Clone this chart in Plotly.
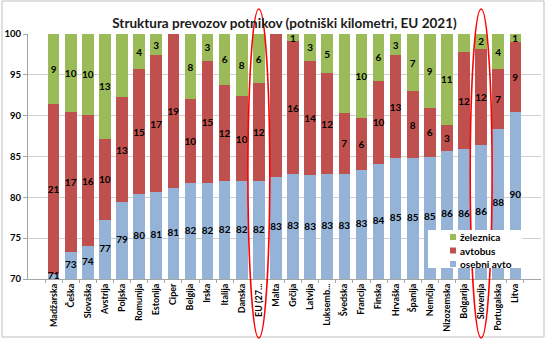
import plotly.graph_objects as go

countries = ["Madžarska", "Češka", "Slovaška", "Avstrija", "Poljska", "Romunija", "Estonija",
             "Ciper", "Belgija", "Irska", "Italija", "Danska", "EU (27...", "Malta", "Grčija",
             "Latvija", "Luksemb...", "Švedska", "Francija", "Finska", "Hrvaška", "Španija",
             "Nemčija", "Nizozemska", "Bolgarija", "Slovenija", "Portugalska", "Litva"]

osebni_avto = [70.6, 73.3, 74.0, 77.2, 79.4, 80.4, 80.6, 81.2, 81.7, 81.7, 82.0, 82.0, 82.0,
               82.55, 82.8, 82.7, 82.8, 82.9, 83.3, 84.1, 84.8, 84.8, 85.0, 85.7, 85.9, 86.4,
               88.4, 90.4]
avtobus = [20.8, 17.1, 16.1, 10.0, 12.9, 15.3, 16.8, 18.8, 10.3, 15.0, 11.8, 10.4, 12.0,
           17.5, 16.3, 14.0, 12.4, 7.4, 6.4, 10.2, 12.6, 8.2, 5.9, 3.2, 11.9, 11.8, 7.3, 8.6]
zeleznica = [8.6, 9.6, 9.9, 12.8, 7.7, 4.3, 2.6, 0.0, 8.0, 3.3, 6.2, 7.6, 6.0, 0.0, 0.9, 3.3,
             4.8, 9.7, 10.3, 5.7, 2.6, 7.0, 9.1, 11.1, 2.2, 1.8, 4.3, 1.0]

series_names = ["osebni avto", "avtobus", "železnica"]
highlighted = ["EU (27...", "Slovenija"]
y_range = [70, 100]

GREEN = "#9BBB59"
RED = "#C0504D"
BLUE = "#95B3D7"
FONT = "Lato"

W, H = 549, 340
ML, MR, MT, MB = 28, 8, 34, 61
PW, PH = W - ML - MR, H - MT - MB


def px_x(p):
    return (p - ML) / PW


def px_y(p):
    return (H - MB - p) / PH


def labels(vals):
    return [f"{v:.0f}" if v >= 0.5 else "" for v in vals]


label_font = dict(family=FONT, size=10, color="#000000", weight="bold")

fig = go.Figure()
for name, vals, col in zip(series_names, [osebni_avto, avtobus, zeleznica], [BLUE, RED, GREEN]):
    is_car = name == "osebni avto"
    fig.add_trace(go.Bar(
        x=countries, y=vals, name=name, marker=dict(color=col, line=dict(width=0)),
        text=None if is_car else labels(vals),
        textposition="none" if is_car else "inside", insidetextanchor="middle",
        textangle=0, textfont=label_font, showlegend=False,
    ))

# car labels: centred on the visible part of each car segment (axis starts at 70)
fig.add_trace(go.Scatter(
    x=countries, y=[(y_range[0] + v) / 2 for v in osebni_avto], mode="text",
    text=labels(osebni_avto), textfont=label_font, showlegend=False, cliponaxis=False,
    hoverinfo="skip",
))

shapes = [
    dict(type="rect", xref="paper", yref="paper", x0=px_x(2), x1=px_x(544), y0=px_y(337), y1=px_y(1),
         line=dict(color="#BFBFBF", width=1), layer="below"),
]
for c in highlighted:
    i = countries.index(c)
    shapes.append(dict(type="circle", xref="x", yref="paper", x0=i - 0.64, x1=i + 0.64,
                       y0=px_y(338), y1=px_y(9), line=dict(color="#FF0000", width=1.6), layer="above"))

# legend box (drawn over the bars, as in the reference)
annotations = []
shapes.append(dict(type="rect", xref="paper", yref="paper", x0=px_x(428), x1=px_x(522),
                   y0=px_y(268), y1=px_y(230), fillcolor="white", line=dict(width=0), layer="above"))
for k, (name, col) in enumerate(zip(["železnica", "avtobus", "osebni avto"], [GREEN, RED, BLUE])):
    cy = 237 + k * 13.5
    shapes.append(dict(type="rect", xref="paper", yref="paper", x0=px_x(450), x1=px_x(456),
                       y0=px_y(cy + 3), y1=px_y(cy - 3), fillcolor=col, line=dict(width=0),
                       layer="above"))
    annotations.append(dict(xref="paper", yref="paper", x=px_x(458), y=px_y(cy), text=name,
                            showarrow=False, xanchor="left", yanchor="middle",
                            font=dict(family=FONT, size=10, color="#000000", weight="bold")))

fig.update_layout(
    width=W, height=H,
    margin=dict(l=ML, r=MR, t=MT, b=MB),
    barmode="stack", bargap=0.32,
    paper_bgcolor="white", plot_bgcolor="white",
    title=dict(text="<b>Struktura prevozov potnikov (potniški kilometri, EU 2021)</b>",
               x=0.5, xref="paper", y=0.945, yref="container",
               font=dict(family=FONT, size=13.5, color="#1a1a1a")),
    font=dict(family=FONT, color="#000000"),
    uniformtext=dict(minsize=10, mode="show"),
    showlegend=False,
    shapes=shapes,
    annotations=annotations,
)
fig.update_xaxes(type="category", tickangle=-90, tickfont=dict(family=FONT, size=9, weight="bold"),
                 showline=True, linecolor="#A6A6A6", ticks="outside", tickson="boundaries",
                 ticklen=3, tickcolor="#A6A6A6", showgrid=False, automargin=False)
fig.update_yaxes(range=y_range, dtick=5, tickfont=dict(family=FONT, size=9.5, weight="bold"),
                 showline=True, linecolor="#A6A6A6", ticks="outside", ticklen=4, tickcolor="#A6A6A6",
                 showgrid=True, gridcolor="#D0D0D0", zeroline=False, automargin=False)

fig.write_html("out.html")
